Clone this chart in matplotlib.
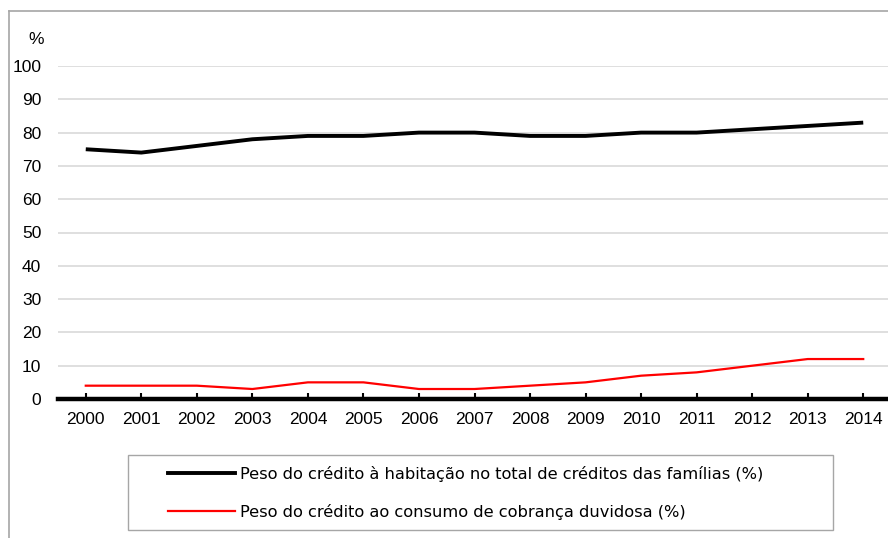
import matplotlib
matplotlib.use("Agg")
import matplotlib.pyplot as plt
from matplotlib.lines import Line2D
from matplotlib.patches import Rectangle

years = ["2000", "2001", "2002", "2003", "2004", "2005", "2006", "2007",
         "2008", "2009", "2010", "2011", "2012", "2013", "2014"]
habitacao = [75, 74, 76, 78, 79, 79, 80, 80, 79, 79, 80, 80, 81, 82, 83]
consumo = [4, 4, 4, 3, 5, 5, 3, 3, 4, 5, 7, 8, 10, 12, 12]
yticks = [0, 10, 20, 30, 40, 50, 60, 70, 80, 90, 100]
label_hab = "Peso do crédito à habitação no total de créditos das famílias (%)"
label_con = "Peso do crédito ao consumo de cobrança duvidosa (%)"

W, H = 888, 538
fig = plt.figure(figsize=(W / 100, H / 100), dpi=100)
plt.rcParams['font.family'] = ['Liberation Sans', 'DejaVu Sans']

left, right, bottom, top = 58, 891, 399, 66
ax = fig.add_axes([left / W, 1 - bottom / H, (right - left) / W, (bottom - top) / H])

x = list(range(len(years)))
ax.plot(x, habitacao, color="black", lw=2.8, solid_capstyle="butt", zorder=3)
ax.plot(x, consumo, color="#ff0000", lw=1.6, zorder=3)

ax.set_xlim(-0.5, len(years) - 0.5)
ax.set_ylim(0, 100)
ax.set_yticks(yticks)
ax.set_yticklabels([str(v) for v in yticks])
ax.set_xticks(x)
ax.set_xticklabels(years)

for v in yticks[1:]:
    ax.axhline(v, color="#d9d9d9", lw=1.2, zorder=1)

for s in ["left", "right", "top"]:
    ax.spines[s].set_visible(False)
ax.spines["bottom"].set_linewidth(3.2)
ax.spines["bottom"].set_color("black")
ax.spines["bottom"].set_zorder(4)

ax.tick_params(axis="y", length=0, pad=12, labelsize=12.5, labelcolor="black")
ax.tick_params(axis="x", direction="in", length=4, width=1.5, pad=9,
               labelsize=12.5, color="black")

fig.text(36 / W, 1 - 40 / H, "%", fontsize=12.5, ha="center", va="center")

# chart border (left and top)
fig.add_artist(Line2D([8.5 / W, 8.5 / W], [0, 1 - 11 / H], color="#a6a6a6", lw=1.2))
fig.add_artist(Line2D([8.5 / W, 1], [1 - 11 / H, 1 - 11 / H], color="#a6a6a6", lw=1.2))

# legend box
fig.add_artist(Rectangle((128 / W, 1 - 530 / H), (833 - 128) / W, (530 - 455) / H,
                         transform=fig.transFigure, fill=False,
                         edgecolor="#a6a6a6", lw=1.0))

handles = [Line2D([], [], color="black", lw=2.8),
           Line2D([], [], color="#ff0000", lw=1.6)]
leg = fig.legend(handles, [label_hab, label_con], loc="upper left",
                 bbox_to_anchor=(168 / W, 1 - 465.5 / H), frameon=False,
                 borderpad=0, borderaxespad=0, handlelength=4.15,
                 handletextpad=0.25, labelspacing=1.36,
                 prop={"family": "DejaVu Sans", "size": 11.7})

fig.savefig("out.png", dpi=100)
